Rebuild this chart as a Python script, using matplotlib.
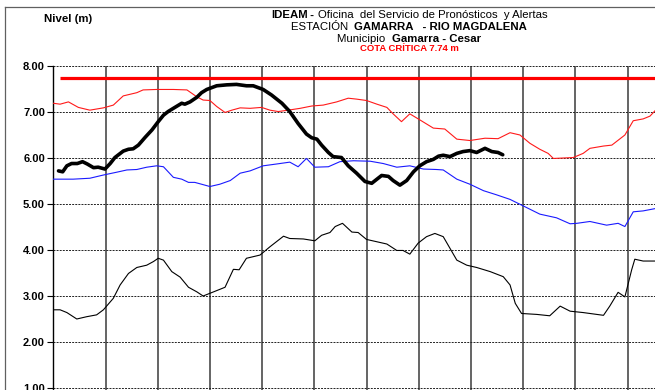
import numpy as np
import matplotlib
matplotlib.use("Agg")
import matplotlib.pyplot as plt
from matplotlib.lines import Line2D
from matplotlib.offsetbox import TextArea, HPacker, AnnotationBbox

plt.rcParams['font.family'] = ['Liberation Sans', 'DejaVu Sans']

# cota critica (m)
COTA = 7.74

# nivel observado (linea gruesa negra): dias, metros
obs_x = [0.10, 0.18, 0.26, 0.35, 0.46, 0.56, 0.65, 0.77, 0.86, 0.99, 1.09, 1.18,
         1.34, 1.44, 1.53, 1.63, 1.76, 1.89, 2.01, 2.11, 2.20, 2.30, 2.46, 2.52,
         2.62, 2.75, 2.84, 2.94, 3.13, 3.32, 3.51, 3.70, 3.83, 4.02, 4.18, 4.38,
         4.53, 4.69, 4.85, 4.95, 5.05, 5.14, 5.27, 5.36, 5.52, 5.65, 5.81, 5.97,
         6.10, 6.20, 6.29, 6.42, 6.51, 6.64, 6.77, 6.90, 7.02, 7.15, 7.28, 7.38,
         7.47, 7.60, 7.73, 7.85, 7.98, 8.11, 8.27, 8.40, 8.52, 8.61]
obs_y = [5.72, 5.70, 5.83, 5.88, 5.88, 5.92, 5.87, 5.79, 5.80, 5.76, 5.88, 6.01,
         6.15, 6.19, 6.20, 6.28, 6.45, 6.61, 6.79, 6.93, 7.01, 7.08, 7.19, 7.17,
         7.22, 7.32, 7.42, 7.49, 7.57, 7.59, 7.60, 7.57, 7.57, 7.49, 7.37, 7.19,
         7.01, 6.75, 6.52, 6.44, 6.41, 6.28, 6.12, 6.03, 6.01, 5.83, 5.67, 5.49,
         5.45, 5.54, 5.62, 5.60, 5.51, 5.41, 5.51, 5.70, 5.83, 5.92, 5.97, 6.04,
         6.06, 6.03, 6.10, 6.14, 6.16, 6.12, 6.21, 6.14, 6.12, 6.07]

# linea roja delgada
red_x = [0.00, 0.13, 0.29, 0.48, 0.70, 0.96, 1.15, 1.34, 1.60, 1.72, 1.98, 2.30,
         2.56, 2.75, 2.87, 3.00, 3.13, 3.29, 3.42, 3.58, 3.77, 3.99, 4.15, 4.31,
         4.50, 4.73, 4.95, 5.17, 5.43, 5.65, 5.81, 6.00, 6.20, 6.39, 6.51, 6.67,
         6.83, 7.02, 7.28, 7.50, 7.73, 7.98, 8.27, 8.52, 8.75, 8.94, 9.13, 9.32,
         9.48, 9.58, 9.96, 10.15, 10.28, 10.54, 10.70, 10.95, 11.11, 11.30, 11.43, 11.53]
red_y = [7.19, 7.17, 7.22, 7.10, 7.04, 7.09, 7.15, 7.35, 7.42, 7.48, 7.49, 7.49,
         7.48, 7.33, 7.26, 7.25, 7.12, 6.99, 7.04, 7.09, 7.08, 7.10, 7.04, 7.01,
         7.04, 7.08, 7.13, 7.15, 7.22, 7.30, 7.28, 7.25, 7.17, 7.10, 6.96, 6.79,
         6.96, 6.83, 6.65, 6.63, 6.41, 6.38, 6.43, 6.42, 6.55, 6.50, 6.32, 6.19,
         6.10, 5.99, 6.01, 6.10, 6.21, 6.26, 6.28, 6.50, 6.81, 6.85, 6.91, 7.03]

# linea azul
blue_x = [0.00, 0.38, 0.70, 0.96, 1.21, 1.41, 1.60, 1.79, 1.98, 2.11, 2.30, 2.46,
          2.59, 2.71, 2.84, 3.00, 3.19, 3.39, 3.58, 3.77, 4.02, 4.28, 4.53, 4.69,
          4.85, 5.01, 5.27, 5.49, 5.75, 6.07, 6.32, 6.58, 6.83, 7.09, 7.34, 7.47,
          7.60, 7.73, 7.98, 8.24, 8.49, 8.75, 9.00, 9.32, 9.64, 9.90, 10.03, 10.28,
          10.60, 10.82, 10.95, 11.11, 11.30, 11.53]
blue_y = [5.54, 5.54, 5.56, 5.63, 5.69, 5.74, 5.75, 5.80, 5.83, 5.81, 5.58, 5.54,
          5.47, 5.47, 5.43, 5.38, 5.43, 5.51, 5.67, 5.72, 5.83, 5.87, 5.91, 5.81,
          5.99, 5.80, 5.81, 5.92, 5.94, 5.93, 5.88, 5.80, 5.83, 5.76, 5.75, 5.74,
          5.64, 5.54, 5.43, 5.29, 5.20, 5.10, 4.96, 4.78, 4.70, 4.57, 4.58, 4.62,
          4.54, 4.58, 4.51, 4.83, 4.85, 4.90]

# linea negra delgada
low_x = [0.00, 0.13, 0.26, 0.45, 0.64, 0.83, 0.96, 1.15, 1.28, 1.44, 1.60, 1.79,
         1.92, 2.01, 2.11, 2.27, 2.43, 2.59, 2.75, 2.87, 3.07, 3.29, 3.45, 3.56,
         3.70, 3.96, 4.15, 4.41, 4.53, 4.79, 5.01, 5.14, 5.30, 5.40, 5.54, 5.72,
         5.84, 6.00, 6.39, 6.58, 6.70, 6.83, 6.99, 7.15, 7.31, 7.47, 7.73, 7.92,
         8.11, 8.37, 8.62, 8.75, 8.85, 8.97, 9.26, 9.51, 9.71, 9.90, 10.15, 10.54,
         10.66, 10.82, 10.95, 11.08, 11.14, 11.30, 11.53]
low_y = [2.70, 2.70, 2.64, 2.50, 2.55, 2.59, 2.70, 2.95, 3.24, 3.49, 3.62, 3.67,
         3.75, 3.82, 3.78, 3.53, 3.41, 3.19, 3.09, 3.00, 3.09, 3.19, 3.58, 3.57,
         3.82, 3.89, 4.07, 4.30, 4.25, 4.24, 4.20, 4.32, 4.38, 4.51, 4.58, 4.39,
         4.38, 4.23, 4.13, 3.99, 3.99, 3.91, 4.15, 4.29, 4.36, 4.29, 3.78, 3.67,
         3.62, 3.53, 3.42, 3.24, 2.84, 2.62, 2.60, 2.57, 2.78, 2.67, 2.64, 2.58,
         2.78, 3.08, 2.98, 3.57, 3.80, 3.76, 3.76]

y_ticks = [1, 2, 3, 4, 5, 6, 7, 8]


def title_line(fig, parts, y, size):
    boxes = [TextArea(s, textprops=dict(size=size, weight=w, color=c)) for s, w, c in parts]
    pack = HPacker(children=boxes, pad=0, sep=0, align="baseline")
    ab = AnnotationBbox(pack, (409 / 655, y), xycoords="figure fraction",
                        frameon=False, box_alignment=(0.5, 0.5), pad=0)
    fig.add_artist(ab)


fig = plt.figure(figsize=(6.55, 3.9), dpi=100)
# the plot area runs past the right and bottom edges of the picture
ax = fig.add_axes([53.3 / 655, (390 - 434) / 390, 12 * 52.2 / 655, 368 / 390])
ax.set_xlim(0, 12)
ax.set_ylim(0, 8)

for v in range(1, 12):
    ax.axvline(v, color="#3a3a3a", lw=1.1, zorder=1)
for v in y_ticks:
    ax.axhline(v, color="#222222", lw=0.7, ls=(0, (2.0, 1.2)), zorder=1)

ax.plot(low_x, low_y, color="black", lw=0.8, zorder=3)
ax.plot(blue_x, blue_y, color="#1a1aff", lw=0.8, zorder=3)
ax.plot(red_x, red_y, color="#ff1a1a", lw=0.8, zorder=3)
ax.hlines(COTA, 0.12, 12, color="red", lw=2.3, zorder=4)
ax.plot(obs_x, obs_y, color="black", lw=2.6, solid_joinstyle="round",
        solid_capstyle="round", zorder=5)

for s in ["top", "right", "bottom"]:
    ax.spines[s].set_visible(False)
ax.spines["left"].set_linewidth(1.0)
ax.set_xticks([])
ax.set_yticks(y_ticks)
ax.set_yticklabels(["%.2f" % t for t in y_ticks], fontsize=8, fontweight="bold")
ax.tick_params(axis="y", direction="out", length=4, width=0.8, pad=2)

# marco exterior
fig.add_artist(Line2D([5 / 655, 5 / 655], [0, 1 - 7 / 390], color="#606060", lw=0.9))
fig.add_artist(Line2D([5 / 655, 1], [1 - 7 / 390, 1 - 7 / 390], color="#606060", lw=0.9))

fig.text(44 / 655, 1 - 19 / 390, "Nivel (m)", fontsize=8.2, fontweight="bold", va="center")

title_line(fig, [("IDEAM", "bold", "black"),
                 (" - ", "bold", "black"),
                 ("Oficina  del Servicio de Pronósticos  y Alertas", "normal", "black")],
           1 - 15.5 / 390, 8.2)
title_line(fig, [("ESTACIÓN  ", "normal", "black"),
                 ("GAMARRA   - RIO MAGDALENA", "bold", "black")],
           1 - 27 / 390, 8.2)
title_line(fig, [("Municipio  ", "normal", "black"),
                 ("Gamarra - Cesar", "bold", "black")],
           1 - 38.5 / 390, 8.2)
title_line(fig, [("COTA CRÍTICA 7.74 m", "bold", "red")], 1 - 48.5 / 390, 6.8)

fig.savefig("out.png", dpi=100)
